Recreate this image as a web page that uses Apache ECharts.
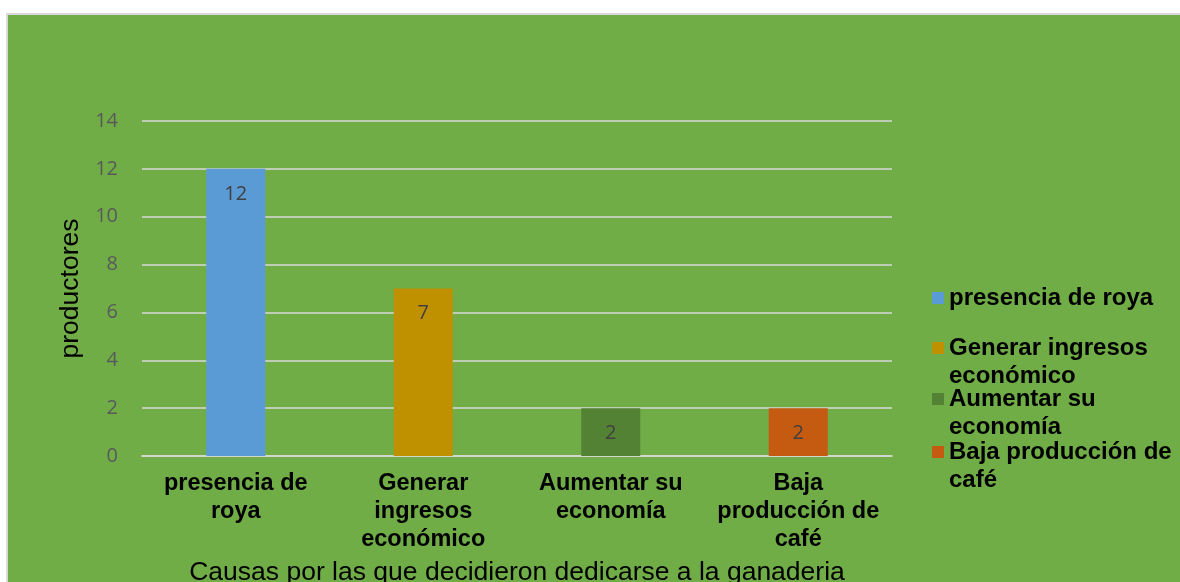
<!DOCTYPE html>
<html>
<head>
<meta charset="utf-8">
<script src="https://cdn.jsdelivr.net/npm/echarts@6/dist/echarts.min.js"></script>
<style>
  html, body { margin: 0; padding: 0; background: #fff; overflow: hidden; }
  #wrap { position: absolute; left: 6px; top: 13px; width: 1180px; height: 580px; border: 2px solid #d9d9d9; box-sizing: border-box; }
  #chart { width: 100%; height: 100%; }
</style>
</head>
<body>
<div id="wrap"><div id="chart"></div></div>
<script>
// datos
const categories = ['presencia de\nroya', 'Generar\ningresos\neconómico', 'Aumentar su\neconomía', 'Baja\nproducción de\ncafé'];
const seriesNames = ['presencia de roya', 'Generar ingresos económico', 'Aumentar su economía', 'Baja producción de café'];
const legendLabels = ['presencia de roya', 'Generar ingresos\neconómico', 'Aumentar su\neconomía', 'Baja producción de\ncafé'];
const values = [12, 7, 2, 2];
const colors = ['#5b9bd5', '#bf9000', '#548235', '#c55a11'];
const yTicks = { min: 0, max: 14, interval: 2 };

const chart = echarts.init(document.getElementById('chart'));

const series = seriesNames.map((name, i) => ({
  name: name,
  type: 'bar',
  stack: 'total',
  barWidth: 59,
  data: values.map((v, j) => (j === i ? v : '-')),
  itemStyle: { color: colors[i] },
  label: {
    show: true,
    position: 'insideTop',
    distance: 15,
    color: '#404040',
    fontSize: 20,
    fontFamily: 'Open Sans'
  }
}));

// una leyenda por elemento; el icono alto deja el cuadro alineado con la primera línea
const legendTops = [269, 319, 370, 423];
const tallIcon = 'path://M0,0L12,0L12,12L0,12Z M0,40L12,40';
const legends = seriesNames.map((name, i) => {
  const multi = legendLabels[i].includes('\n');
  return {
    data: [name],
    orient: 'vertical',
    left: 924,
    top: legendTops[i],
    padding: 0,
    itemWidth: 12,
    itemHeight: multi ? 40 : 12,
    icon: multi ? tallIcon : 'rect',
    itemStyle: { borderWidth: 0 },
    selectedMode: false,
    formatter: () => legendLabels[i],
    textStyle: {
      color: '#000',
      fontSize: 24,
      fontWeight: 'bold',
      fontFamily: 'Liberation Sans',
      lineHeight: 28
    }
  };
});

const option = {
  backgroundColor: '#70ad47',
  animation: false,
  grid: { left: 134, right: 292, top: 106, bottom: 130 },
  legend: legends,
  xAxis: {
    type: 'category',
    data: categories,
    name: 'Causas por las que decidieron dedicarse a la ganaderia',
    nameLocation: 'middle',
    nameGap: 103,
    nameTextStyle: { color: '#000', fontSize: 26.5, fontFamily: 'Liberation Sans' },
    axisLine: { lineStyle: { color: '#d9d9d9', width: 1.5 } },
    axisTick: { show: false },
    axisLabel: {
      color: '#000',
      fontSize: 23.5,
      fontWeight: 'bold',
      fontFamily: 'Liberation Sans',
      lineHeight: 28,
      margin: 14,
      interval: 0
    }
  },
  yAxis: {
    type: 'value',
    min: yTicks.min,
    max: yTicks.max,
    interval: yTicks.interval,
    name: 'productores',
    nameLocation: 'middle',
    nameGap: 40,
    nameTextStyle: { color: '#000', fontSize: 26.5, fontFamily: 'Liberation Sans' },
    axisLine: { show: false },
    axisTick: { show: false },
    axisLabel: { color: '#595959', fontSize: 20, fontFamily: 'Open Sans', margin: 24 },
    splitLine: { lineStyle: { color: '#d9d9d9', width: 1.5 } }
  },
  series: series
};

chart.setOption(option);
</script>
</body>
</html>
